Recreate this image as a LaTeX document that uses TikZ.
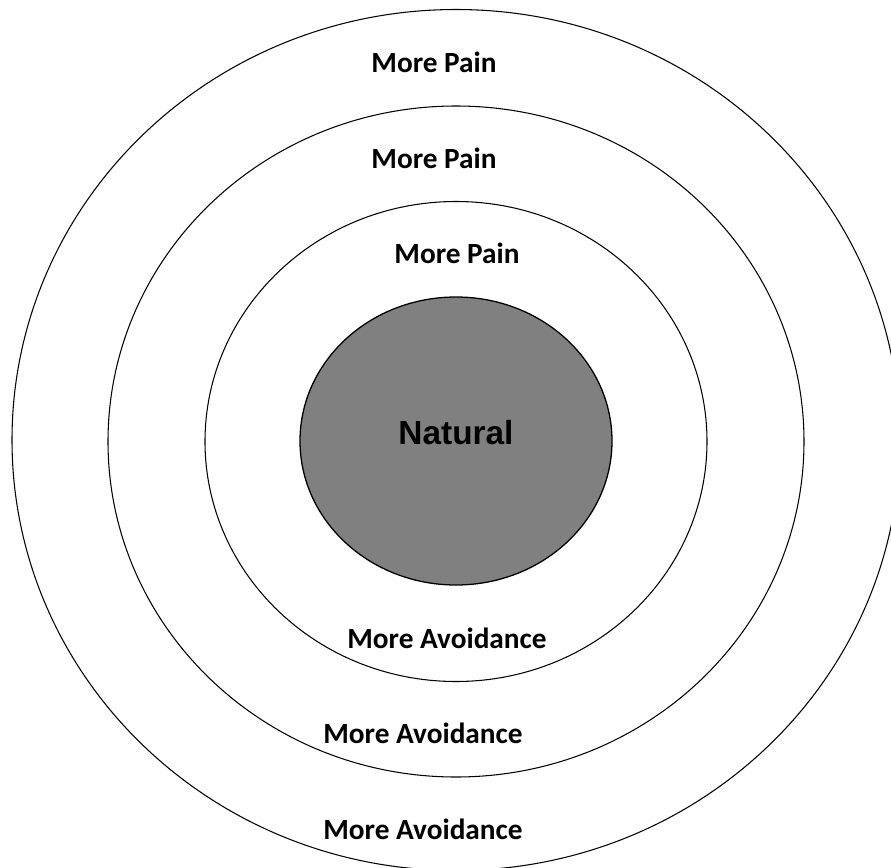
\documentclass[tikz,border=0pt]{standalone}
\usepackage{fontspec}
\setmainfont{Carlito}
\newfontfamily\arialfont{Liberation Sans}
\usepackage{tikz}

\begin{document}
\begin{tikzpicture}[
        x=0.03cm, y=-0.03cm,
        ring/.style={draw=black, line width=0.9pt},
        core/.style={draw=black, line width=1.1pt, fill=gray},
        lbl/.style={font=\fontsize{25}{30}\selectfont\bfseries, inner sep=0pt},
        corelbl/.style={font=\arialfont\fontsize{28.5}{34}\selectfont\bfseries, inner sep=0pt}
    ]
        \useasboundingbox (0,0) rectangle (891,868);
        \clip (0,0) rectangle (891,868);

        % rings, outside in
        \draw[ring] (456,440) ellipse [x radius=444, y radius=430.5];
        \draw[ring] (456,441.5) ellipse [x radius=348, y radius=335.5];
        \draw[ring] (456,441.5) ellipse [x radius=251, y radius=240];
        \draw[core] (456,441) ellipse [x radius=156, y radius=144];

        \node[corelbl] (natural) at (456,433) {Natural};

        \node[lbl] (pain1) at (434,62) {More Pain};
        \node[lbl] (pain2) at (434,158) {More Pain};
        \node[lbl] (pain3) at (457,253) {More Pain};

        \node[lbl] (avoid1) at (447,638) {More Avoidance};
        \node[lbl] (avoid2) at (423,733) {More Avoidance};
        \node[lbl] (avoid3) at (423,829) {More Avoidance};
    \end{tikzpicture}
\end{document}
